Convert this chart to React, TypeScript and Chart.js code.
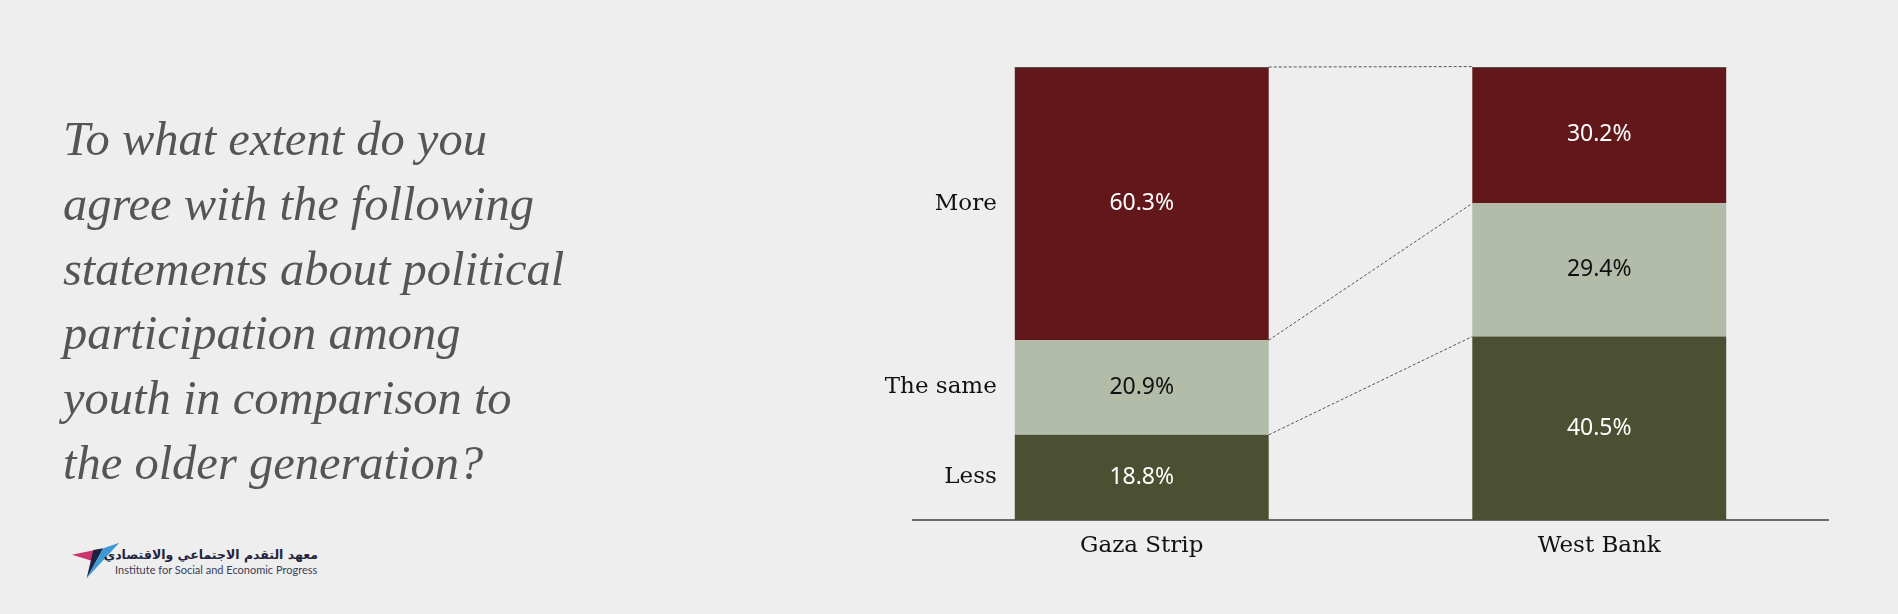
import React, { useEffect, useRef } from "react";
import { Chart, registerables } from "chart.js";

Chart.register(...registerables);

const categories = ["Gaza Strip", "West Bank"];
const seriesNames = ["Less", "The same", "More"];
const lessValues = [18.8, 40.5];
const sameValues = [20.9, 29.4];
const moreValues = [60.3, 30.2];
const seriesColors = ["#4a5031", "#b3bca9", "#62181a"];
const valueLabelColors = ["#ffffff", "#111111", "#ffffff"];
const titleLines = [
  "To what extent do you",
  "agree with the following",
  "statements about political",
  "participation among",
  "youth in comparison to",
  "the older generation?",
];
const logoArabic = "معهد التقدم الاجتماعي والاقتصادي";
const logoEnglish = "Institute for Social and Economic Progress";

const seriesValues = [lessValues, sameValues, moreValues];

const overlayPlugin = {
  id: "overlay",
  afterDatasetsDraw(chart: any) {
    const ctx = chart.ctx as CanvasRenderingContext2D;
    const metas = chart.data.datasets.map((_: any, i: number) => chart.getDatasetMeta(i));
    ctx.save();

    // connector lines between the two bars
    ctx.strokeStyle = "#555555";
    ctx.lineWidth = 1;
    metas.forEach((meta: any) => {
      const a = meta.data[0].getProps(["x", "y", "width"], true);
      const b = meta.data[1].getProps(["x", "y", "width"], true);
      ctx.setLineDash([3, 2]);
      ctx.beginPath();
      ctx.moveTo(a.x + a.width / 2, a.y);
      ctx.lineTo(b.x - b.width / 2, b.y);
      ctx.stroke();
    });
    // thin top edge over bars
    const topMeta = metas[metas.length - 1];
    ctx.setLineDash([]);
    topMeta.data.forEach((el: any) => {
      const p = el.getProps(["x", "y", "width"], true);
      ctx.beginPath();
      ctx.moveTo(p.x - p.width / 2, Math.round(p.y) + 0.5);
      ctx.lineTo(p.x + p.width / 2, Math.round(p.y) + 0.5);
      ctx.stroke();
    });

    // value labels
    ctx.font = "23px 'Noto Sans'";
    ctx.textAlign = "center";
    ctx.textBaseline = "middle";
    metas.forEach((meta: any, i: number) => {
      meta.data.forEach((el: any, j: number) => {
        const p = el.getProps(["x", "y", "base"], true);
        ctx.fillStyle = valueLabelColors[i];
        ctx.fillText(seriesValues[i][j].toFixed(1) + "%", p.x, (p.y + p.base) / 2);
      });
    });

    // row labels beside first bar
    ctx.font = "23px 'DejaVu Serif'";
    ctx.textAlign = "right";
    ctx.fillStyle = "#111111";
    metas.forEach((meta: any, i: number) => {
      const p = meta.data[0].getProps(["x", "y", "base", "width"], true);
      ctx.fillText(seriesNames[i], p.x - p.width / 2 - 18, (p.y + p.base) / 2);
    });

    ctx.restore();
  },
};

function ChartCanvas() {
  const ref = useRef<HTMLCanvasElement | null>(null);
  useEffect(() => {
    if (!ref.current) return;
    const chart = new Chart(ref.current, {
      type: "bar",
      data: {
        labels: categories,
        datasets: seriesNames.map((name, i) => ({
          label: name,
          data: seriesValues[i],
          backgroundColor: seriesColors[i],
          borderWidth: 0,
          categoryPercentage: 1,
          barPercentage: 0.555,
        })),
      },
      options: {
        responsive: false,
        animation: false,
        layout: { padding: { left: 913, right: 70, top: 67, bottom: 0 } },
        plugins: { legend: { display: false }, tooltip: { enabled: false } },
        scales: {
          x: {
            stacked: true,
            grid: { display: false, drawTicks: false },
            border: { display: true, color: "#6b6b6b", width: 2 },
            ticks: {
              color: "#111111",
              font: { family: "'DejaVu Serif'", size: 23 },
              padding: 12,
            },
            afterFit: (scale: any) => {
              scale.height = 94;
            },
          },
          y: {
            stacked: true,
            display: false,
            min: 0,
            max: 100,
          },
        },
      },
      plugins: [overlayPlugin],
    } as any);
    return () => chart.destroy();
  }, []);
  return (
    <canvas
      ref={ref}
      width={1898}
      height={614}
      style={{ position: "absolute", left: 0, top: 0, width: 1898, height: 614 }}
    />
  );
}

export default function App() {
  return (
    <div
      style={{
        position: "fixed",
        left: 0,
        top: 0,
        width: 1898,
        height: 614,
        background: "#eeeeee",
        overflow: "hidden",
      }}
    >
      <div
        style={{
          position: "absolute",
          left: 63,
          top: 107,
          fontFamily: "'Liberation Serif', serif",
          fontStyle: "italic",
          fontSize: 48.5,
          lineHeight: "64.8px",
          color: "#555555",
          whiteSpace: "nowrap",
        }}
      >
        {titleLines.map((l, i) => (
          <div key={i}>{l}</div>
        ))}
      </div>
      <svg
        width={50}
        height={40}
        style={{ position: "absolute", left: 70, top: 540 }}
        viewBox="70 540 50 40"
      >
        <polygon points="72,554.7 95,550 91.7,560.7" fill="#c9336e" />
        <polygon points="93.3,550 103.3,548.3 86.7,578.3" fill="#1d2040" />
        <polygon points="103.3,548.3 119.3,542.7 86.7,578.3" fill="#3d9ad6" />
      </svg>
      <div
        dir="rtl"
        style={{
          position: "absolute",
          right: 1898 - 318,
          top: 547,
          fontFamily: "'DejaVu Sans', sans-serif",
          fontWeight: "bold",
          fontSize: 12.5,
          lineHeight: "16px",
          color: "#23253d",
          whiteSpace: "nowrap",
        }}
      >
        {logoArabic}
      </div>
      <div
        style={{
          position: "absolute",
          left: 115,
          top: 563,
          fontFamily: "Lato, sans-serif",
          fontSize: 11,
          lineHeight: "14px",
          color: "#3a3d55",
          whiteSpace: "nowrap",
        }}
      >
        {logoEnglish}
      </div>
      <ChartCanvas />
    </div>
  );
}
